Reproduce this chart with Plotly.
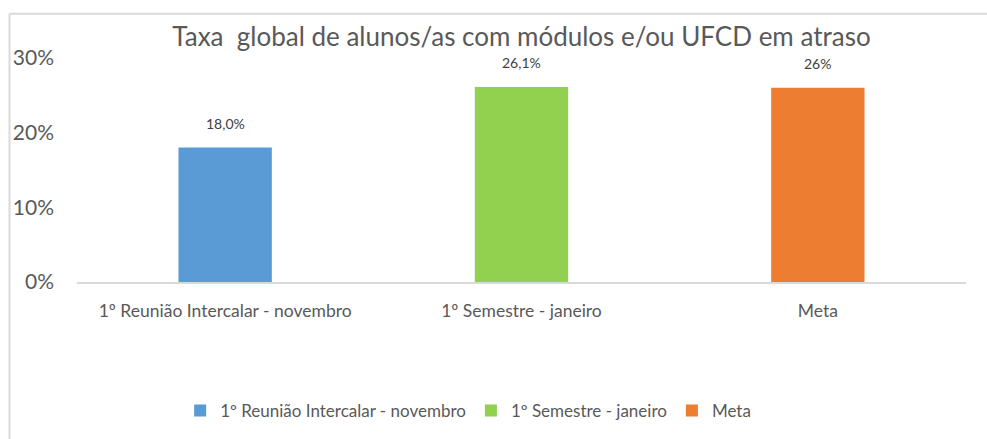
import plotly.graph_objects as go

categories = ["1º Reunião Intercalar - novembro", "1º Semestre - janeiro", "Meta"]
values = [0.180, 0.261, 0.26]
value_labels = ["18,0%", "26,1%", "26%"]
colors = ["#5b9bd5", "#92d050", "#ed7d31"]
title_text = "Taxa  global de alunos/as com módulos e/ou UFCD em atraso"

FONT = "Lato, Open Sans, sans-serif"

fig = go.Figure()
for cat, val, col in zip(categories, values, colors):
    fig.add_trace(go.Bar(x=[cat], y=[val], name=cat, marker_color=col,
                         width=0.315, marker_line_width=0))

for cat, val, lab in zip(categories, values, value_labels):
    fig.add_annotation(x=cat, y=val, text=lab, showarrow=False, yanchor="bottom",
                       yshift=14, font=dict(family=FONT, size=14, color="#404040"))

# chart border (left and top visible)
fig.add_shape(type="line", xref="paper", yref="paper", x0=-0.0759, x1=1.03, y0=1.198, y1=1.198,
              line=dict(color="#d9d9d9", width=2))
fig.add_shape(type="line", xref="paper", yref="paper", x0=-0.0759, x1=-0.0759, y0=1.198, y1=-0.75,
              line=dict(color="#d9d9d9", width=2))

fig.update_layout(
    width=987, height=439,
    margin=dict(l=77, r=21, t=58, b=156),
    paper_bgcolor="white", plot_bgcolor="white",
    barmode="overlay",
    title=dict(text=title_text, x=0.5, xref="paper", xanchor="center",
               y=1 - 37 / 439, yref="container", yanchor="middle",
               font=dict(family=FONT, size=26, color="#595959")),
    showlegend=True,
    legend=dict(orientation="h", x=0.44, xanchor="center", y=-0.569, yanchor="middle",
                font=dict(family=FONT, size=17, color="#595959"),
                itemwidth=30, traceorder="normal"),
    font=dict(family=FONT, color="#595959"),
)
fig.update_yaxes(range=[0, 0.3], tickformat=".0%", dtick=0.1, showgrid=False,
                 zeroline=False, showline=False, ticks="", ticklabelstandoff=22,
                 tickfont=dict(family=FONT, size=21, color="#595959"))
fig.update_xaxes(showline=True, linecolor="#d9d9d9", linewidth=1.5, showgrid=False,
                 ticks="", ticklabelstandoff=12,
                 tickfont=dict(family=FONT, size=17.5, color="#595959"))

fig.write_html("out.html", config={"displayModeBar": False},
               post_script="document.body.style.margin='0';")
